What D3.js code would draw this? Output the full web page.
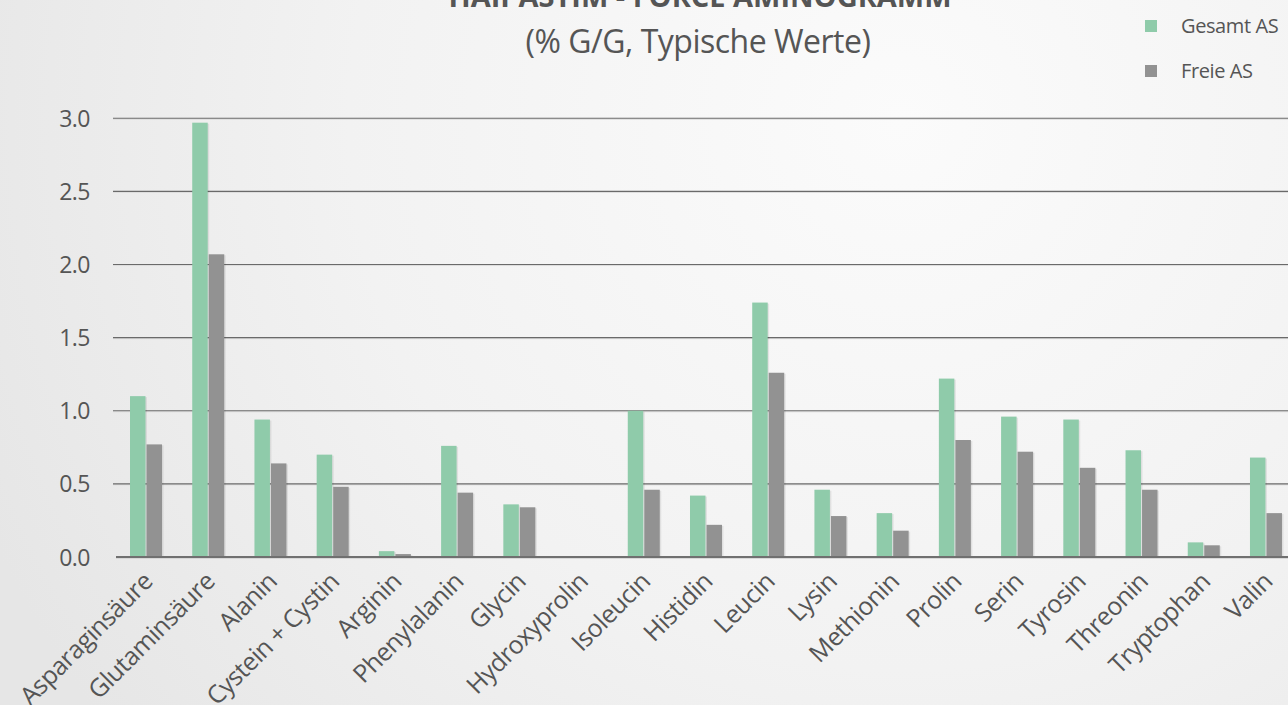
<!DOCTYPE html>
<html><head><meta charset="utf-8">
<script src="https://cdn.jsdelivr.net/npm/d3@7"></script>
<style>
html,body{margin:0;padding:0;overflow:hidden;}
svg{display:block;}
text{font-family:"Open Sans",sans-serif;fill:#555;}
</style></head><body>
<svg id="chart" width="1288" height="705"></svg>
<script>
const categories = ["Asparaginsäure","Glutaminsäure","Alanin","Cystein + Cystin","Arginin","Phenylalanin","Glycin","Hydroxyprolin","Isoleucin","Histidin","Leucin","Lysin","Methionin","Prolin","Serin","Tyrosin","Threonin","Tryptophan","Valin"];
const gesamtAS = [1.10,2.97,0.94,0.70,0.04,0.76,0.36,0,1.00,0.42,1.74,0.46,0.30,1.22,0.96,0.94,0.73,0.10,0.68];
const freieAS  = [0.77,2.07,0.64,0.48,0.02,0.44,0.34,0,0.46,0.22,1.26,0.28,0.18,0.80,0.72,0.61,0.46,0.08,0.30];
const seriesNames = ["Gesamt AS","Freie AS"];
const yTicks = [0,0.5,1,1.5,2,2.5,3];
const titleText = "HAIPASTIM - FORCE AMINOGRAMM";
const subtitleText = "(% G/G, Typische Werte)";

const colors = {"Gesamt AS":"#8fcbaa","Freie AS":"#929292"};
const W = 1288, H = 705;
const svg = d3.select("#chart");
const defs = svg.append("defs");
const rg = defs.append("radialGradient").attr("id","bg")
  .attr("gradientUnits","userSpaceOnUse").attr("cx",900).attr("cy",120).attr("r",1000);
rg.append("stop").attr("offset","0").attr("stop-color","#fbfbfb");
rg.append("stop").attr("offset","0.55").attr("stop-color","#f2f2f2");
rg.append("stop").attr("offset","1").attr("stop-color","#e6e6e6");
svg.append("rect").attr("width",W).attr("height",H).attr("fill","url(#bg)");

const x = d3.scaleBand().domain(categories).range([114.9, 114.9 + 19*62.22]).paddingInner(0).paddingOuter(0);
const bw = x.bandwidth();
const x1 = d3.scaleBand().domain(seriesNames).range([bw/2-16, bw/2+16]).paddingInner(0.0625);
const y = d3.scaleLinear().domain([0,3]).range([557,118.3]);

// gridlines
const grid = svg.append("g");
yTicks.filter(t=>t>0).forEach(t=>{
  grid.append("line").attr("x1",113).attr("x2",W).attr("y1",y(t)+1).attr("y2",y(t)+1)
    .attr("stroke","#dcdcdc").attr("stroke-width",1);
  grid.append("line").attr("x1",113).attr("x2",W).attr("y1",y(t)).attr("y2",y(t))
    .attr("stroke","#6a6a6a").attr("stroke-width",1.1);
});

// y labels via axis
const yAxis = d3.axisLeft(y).tickValues(yTicks).tickFormat(d3.format(".1f")).tickSize(0).tickPadding(0);
const yg = svg.append("g").attr("transform","translate(90,0)").call(yAxis);
yg.select(".domain").remove();
yg.attr("font-size",null).attr("font-family",null);
yg.selectAll("text").style("font-size","23px").attr("fill","#555").attr("dy","0.35em")
  .style("font-family","'Open Sans',sans-serif").attr("letter-spacing",-0.5);

// bars
const data = categories.map((c,i)=>({c, vals:[{k:"Gesamt AS",v:gesamtAS[i]},{k:"Freie AS",v:freieAS[i]}]}));
const groups = svg.append("g").selectAll("g").data(data).join("g")
  .attr("transform",d=>`translate(${x(d.c)},0)`);
groups.selectAll("rect.sh").data(d=>d.vals.filter(v=>v.v>0)).join("rect").attr("class","sh")
  .attr("x",d=>x1(d.k)+1.5).attr("width",x1.bandwidth())
  .attr("y",d=>y(d.v)+1).attr("height",d=>y(0)-y(d.v)-1)
  .attr("fill","#000").attr("opacity",0.08);
groups.selectAll("rect.bar").data(d=>d.vals.filter(v=>v.v>0)).join("rect").attr("class","bar")
  .attr("x",d=>x1(d.k)).attr("width",x1.bandwidth())
  .attr("y",d=>y(d.v)).attr("height",d=>y(0)-y(d.v))
  .attr("fill",d=>colors[d.k]);

// baseline
svg.append("line").attr("x1",116).attr("x2",W).attr("y1",y(0)+1).attr("y2",y(0)+1)
  .attr("stroke","#d0d0d0").attr("stroke-width",1.5);
svg.append("line").attr("x1",116).attr("x2",W).attr("y1",y(0)).attr("y2",y(0))
  .attr("stroke","#707070").attr("stroke-width",1.8);

// x labels via axis
const xAxis = d3.axisBottom(x).tickSize(0).tickPadding(0);
const xg = svg.append("g").attr("transform",`translate(0,${y(0)})`).call(xAxis);
xg.select(".domain").remove();
xg.attr("font-size",null).attr("font-family",null);
xg.selectAll("text").style("font-size","25px").attr("fill","#555")
  .style("font-family","'Open Sans',sans-serif").attr("letter-spacing",-0.5)
  .attr("text-anchor","end").attr("dy",null).attr("y",null)
  .attr("transform","translate(8,26) rotate(-45)");

// title
svg.append("text").attr("x",700).attr("y",7).attr("text-anchor","middle")
  .attr("font-size",29).attr("font-weight","bold").attr("fill","#555").text(titleText);
svg.append("text").attr("x",698).attr("y",53).attr("text-anchor","middle")
  .attr("font-size",32).attr("fill","#555").attr("letter-spacing",-0.5).text(subtitleText);

// legend
const lg = svg.append("g");
seriesNames.forEach((s,i)=>{
  const yy = 20 + i*45;
  lg.append("rect").attr("x",1145).attr("y",yy).attr("width",12).attr("height",12).attr("fill",colors[s]);
  lg.append("text").attr("x",1181).attr("y",yy+13).attr("font-size",20).attr("fill","#555")
    .attr("letter-spacing",-0.4).text(s);
});
</script></body></html>
